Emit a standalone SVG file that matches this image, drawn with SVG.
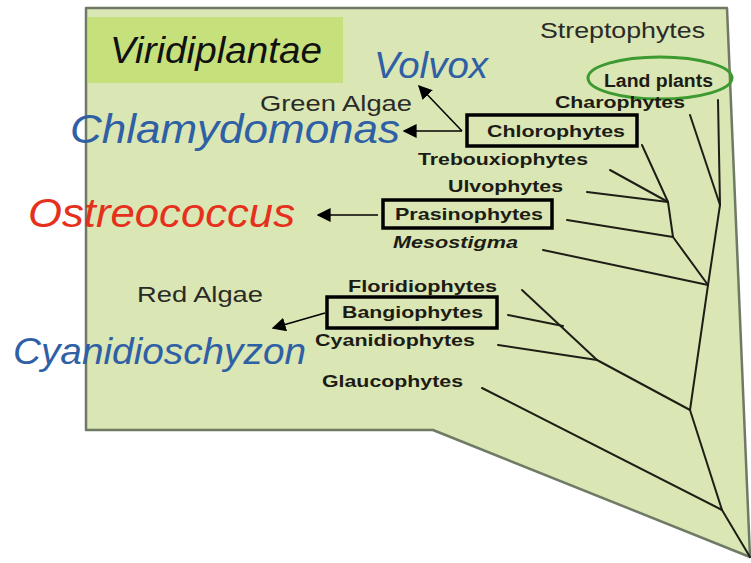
<svg xmlns="http://www.w3.org/2000/svg" width="751" height="563" viewBox="0 0 751 563">
<style>
.lbl{font-family:"Liberation Sans",Arial,sans-serif;font-weight:bold;font-size:17px;fill:#1c1c14}
.grp{font-family:"Liberation Sans",Arial,sans-serif;font-size:22px;fill:#2a2a26}
.sp{font-family:"Liberation Sans",Arial,sans-serif;font-style:italic;font-size:38px}
.blue{fill:#2f5fa5}
.red{fill:#e5301c}
.box{fill:none;stroke:#000;stroke-width:3.5}
.br{fill:none;stroke:#1e1e16;stroke-width:2;stroke-linecap:round}
.arr{fill:none;stroke:#000;stroke-width:1.5}
</style>
<defs>
<marker id="ahb" viewBox="0 0 10 10" refX="9" refY="5" markerWidth="14" markerHeight="14" markerUnits="userSpaceOnUse" orient="auto">
<path d="M0,0 L10,5 L0,10 z" fill="#000"/>
</marker>
</defs>
<rect width="751" height="563" fill="#fff"/>
<g id="background">
<polygon points="86,8 727,8 750,557 433,430 86,430" fill="#dae6b4" stroke="#6f7a64" stroke-width="2.5" stroke-linejoin="round"/>
</g>
<g id="viridiplantae">
<rect x="88" y="17" width="255" height="66" fill="#c6e07c"/>
<text x="110" y="63" class="sp" style="font-size:36px;fill:#111" textLength="212" lengthAdjust="spacingAndGlyphs">Viridiplantae</text>
</g>
<g id="connectors">
<path class="br" d="M718,100 L720,205"/>
<path class="br" d="M690,115 L720,205"/>
<path class="br" d="M720,205 L708,285"/>
<path class="br" d="M642,145 L668,202"/>
<path class="br" d="M610,170 L668,202"/>
<path class="br" d="M587,192 L668,202"/>
<path class="br" d="M668,202 L673,237"/>
<path class="br" d="M567,220 L673,237"/>
<path class="br" d="M673,237 L708,285"/>
<path class="br" d="M543,250 L708,285"/>
<path class="br" d="M708,285 L690,410"/>
<path class="br" d="M522,290 L597,360"/>
<path class="br" d="M508,315 L563,326"/>
<path class="br" d="M498,345 L597,360"/>
<path class="br" d="M597,360 L690,410"/>
<path class="br" d="M690,410 L722,510"/>
<path class="br" d="M482,388 L722,510"/>
<path class="br" d="M722,510 L750,557"/>
<path class="arr" d="M462,131 L404,131" marker-end="url(#ahb)"/>
<path class="arr" d="M462,131 L419,86" marker-end="url(#ahb)"/>
<path class="arr" d="M378,215 L318,215" marker-end="url(#ahb)"/>
<path class="arr" d="M325,313 L273,328" marker-end="url(#ahb)"/>
</g>
<g id="streptophytes"><text x="540" y="38" class="grp" textLength="165" lengthAdjust="spacingAndGlyphs">Streptophytes</text></g>
<g id="land-plants">
<ellipse cx="660" cy="78" rx="72" ry="21" fill="none" stroke="#3c9a30" stroke-width="3"/>
<text x="604" y="87" class="lbl" style="font-size:18px" textLength="109" lengthAdjust="spacingAndGlyphs">Land plants</text>
</g>
<g id="charophytes"><text x="555" y="108" class="lbl" textLength="130" lengthAdjust="spacingAndGlyphs">Charophytes</text></g>
<g id="volvox"><text x="374" y="78" class="sp blue" style="font-size:36px" textLength="114" lengthAdjust="spacingAndGlyphs">Volvox</text></g>
<g id="green-algae"><text x="260" y="111" class="grp" textLength="152" lengthAdjust="spacingAndGlyphs">Green Algae</text></g>
<g id="chlamydomonas"><text x="70" y="143" class="sp blue" style="font-size:40px" textLength="330" lengthAdjust="spacingAndGlyphs">Chlamydomonas</text></g>
<g id="chlorophytes">
<rect x="467" y="115" width="170" height="31" class="box"/>
<text x="487" y="137" class="lbl" textLength="138" lengthAdjust="spacingAndGlyphs">Chlorophytes</text>
</g>
<g id="trebouxiophytes"><text x="418" y="165" class="lbl" textLength="170" lengthAdjust="spacingAndGlyphs">Trebouxiophytes</text></g>
<g id="ulvophytes"><text x="448" y="192" class="lbl" textLength="115" lengthAdjust="spacingAndGlyphs">Ulvophytes</text></g>
<g id="prasinophytes">
<rect x="383" y="200" width="169" height="28" class="box"/>
<text x="395" y="220" class="lbl" textLength="148" lengthAdjust="spacingAndGlyphs">Prasinophytes</text>
</g>
<g id="mesostigma"><text x="393" y="248" class="lbl" style="font-style:italic" textLength="125" lengthAdjust="spacingAndGlyphs">Mesostigma</text></g>
<g id="ostreococcus"><text x="28" y="227" class="sp red" style="font-size:40px" textLength="267" lengthAdjust="spacingAndGlyphs">Ostreococcus</text></g>
<g id="red-algae"><text x="137" y="302" class="grp" textLength="126" lengthAdjust="spacingAndGlyphs">Red Algae</text></g>
<g id="floridiophytes"><text x="348" y="292" class="lbl" textLength="149" lengthAdjust="spacingAndGlyphs">Floridiophytes</text></g>
<g id="bangiophytes">
<rect x="327" y="297" width="170" height="31" class="box"/>
<text x="342" y="318" class="lbl" textLength="141" lengthAdjust="spacingAndGlyphs">Bangiophytes</text>
</g>
<g id="cyanidiophytes"><text x="315" y="346" class="lbl" textLength="160" lengthAdjust="spacingAndGlyphs">Cyanidiophytes</text></g>
<g id="cyanidioschyzon"><text x="13" y="364" class="sp blue" style="font-size:37px" textLength="293" lengthAdjust="spacingAndGlyphs">Cyanidioschyzon</text></g>
<g id="glaucophytes"><text x="322" y="387" class="lbl" textLength="141" lengthAdjust="spacingAndGlyphs">Glaucophytes</text></g>
</svg>
